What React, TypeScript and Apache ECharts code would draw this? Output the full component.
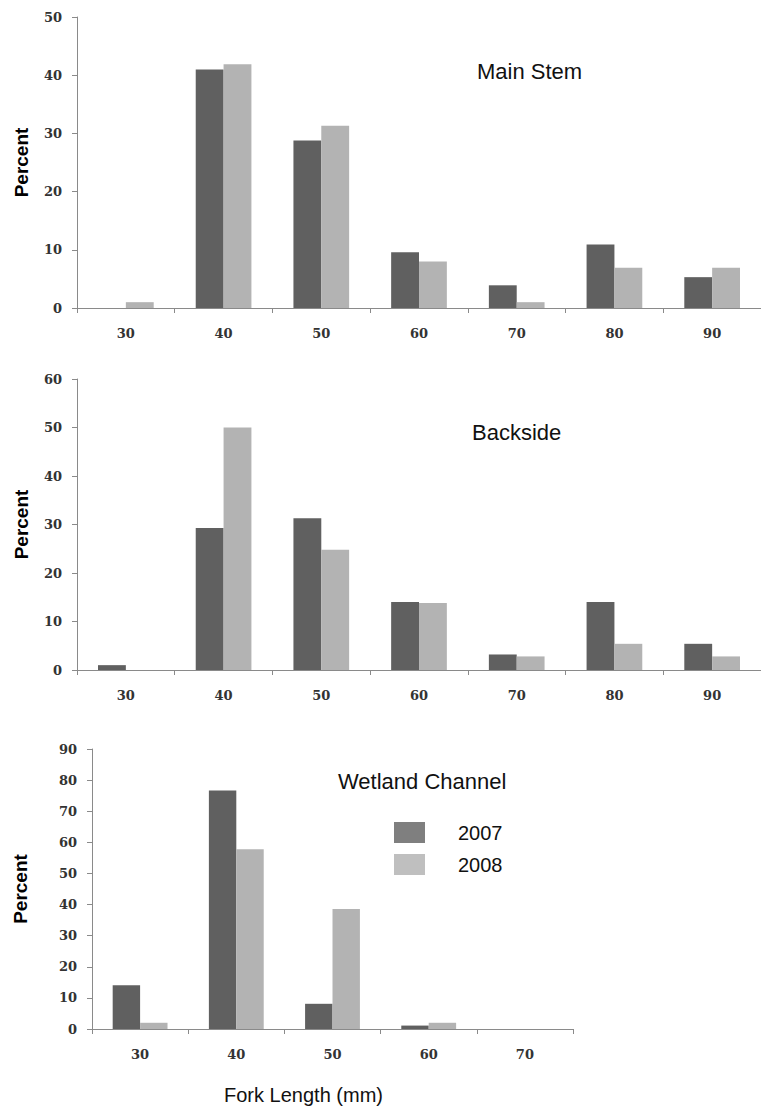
import React, { useEffect, useRef } from "react";
import * as echarts from "echarts";

const categoriesUpper = ["30", "40", "50", "60", "70", "80", "90"];
const categoriesWetland = ["30", "40", "50", "60", "70"];

const mainStem2007 = [0, 41, 28.8, 9.6, 3.9, 10.9, 5.3];
const mainStem2008 = [1.0, 41.9, 31.3, 8.0, 1.0, 6.9, 6.9];

const backside2007 = [1.0, 29.3, 31.3, 14.0, 3.2, 14.0, 5.4];
const backside2008 = [0, 50, 24.8, 13.8, 2.8, 5.4, 2.8];

const wetland2007 = [14.1, 76.7, 8.1, 1.1, 0];
const wetland2008 = [2.0, 57.8, 38.6, 2.0, 0];

const yMaxes = [50, 60, 90];
const panelTitles = ["Main Stem", "Backside", "Wetland Channel"];
const seriesNames = ["2007", "2008"];

const DARK = "#606060";
const LIGHT = "#b3b3b3";
const AXIS = "#8a8a8a";
const LABEL_FONT = "'DejaVu Serif', 'Liberation Serif', serif";
const SANS = "'Liberation Sans', Arial, sans-serif";

export default function App() {
  const ref = useRef<HTMLDivElement>(null);

  useEffect(() => {
    if (!ref.current) return;
    const chart = echarts.init(ref.current, undefined, { renderer: "svg" });

    const grids = [
      { left: 77, top: 17, width: 691, height: 291 },
      { left: 77, top: 379, width: 691, height: 291 },
      { left: 92, top: 749, width: 481, height: 280 },
    ];

    const cats = [categoriesUpper, categoriesUpper, categoriesWetland];

    const xAxes = cats.map((c, i) => ({
      type: "category",
      gridIndex: i,
      data: c,
      axisLine: { lineStyle: { color: AXIS, width: 1 } },
      axisTick: { show: true, length: 5, inside: false, lineStyle: { color: AXIS } },
      axisLabel: {
        margin: 19,
        fontFamily: LABEL_FONT,
        fontWeight: "bold",
        fontSize: 13,
        color: "#333",
      },
      ...(i === 2
        ? {
            name: "Fork Length (mm)",
            nameLocation: "middle",
            nameGap: 56,
            nameTextStyle: {
              fontFamily: SANS,
              fontSize: 20,
              color: "#111",
              padding: [0, 58, 0, 0],
            },
          }
        : {}),
    }));

    const yAxes = yMaxes.map((m, i) => ({
      type: "value",
      gridIndex: i,
      min: 0,
      max: m,
      interval: 10,
      splitLine: { show: false },
      axisLine: { show: true, lineStyle: { color: AXIS, width: 1 } },
      axisTick: { show: true, length: 5, inside: false, lineStyle: { color: AXIS } },
      axisLabel: {
        margin: 15,
        fontFamily: LABEL_FONT,
        fontWeight: "bold",
        fontSize: 13,
        color: "#333",
      },
      name: "Percent",
      nameLocation: "middle",
      nameRotate: 90,
      nameGap: i === 2 ? 62 : 46,
      nameTextStyle: {
        fontFamily: SANS,
        fontWeight: "bold",
        fontSize: 19,
        color: "#000",
      },
    }));

    const data = [
      [mainStem2007, mainStem2008],
      [backside2007, backside2008],
      [wetland2007, wetland2008],
    ];

    const series: any[] = [];
    data.forEach((pair, i) => {
      pair.forEach((vals, j) => {
        series.push({
          type: "bar",
          name: seriesNames[j],
          xAxisIndex: i,
          yAxisIndex: i,
          data: vals,
          barGap: "0%",
          barCategoryGap: "43%",
          itemStyle: { color: j === 0 ? DARK : LIGHT },
          emphasis: { disabled: true },
        });
      });
    });

    const titlePos = [
      { x: 477, y: 71 },
      { x: 472, y: 432 },
      { x: 338, y: 781 },
    ];

    chart.setOption({
      animation: false,
      backgroundColor: "#ffffff",
      grid: grids,
      xAxis: xAxes,
      yAxis: yAxes,
      series,
      legend: {
        orient: "vertical",
        left: 394,
        top: 822,
        padding: 0,
        itemWidth: 31,
        itemHeight: 21,
        itemGap: 11,
        selectedMode: false,
        icon: "rect",
        data: [
          { name: "2007", itemStyle: { color: "#7f7f7f" } },
          { name: "2008", itemStyle: { color: "#bfbfbf" } },
        ],
        textStyle: {
          fontFamily: SANS,
          fontSize: 20,
          color: "#111",
          lineHeight: 21,
          padding: [0, 0, 0, 28],
        },
      },
      graphic: panelTitles.map((t, i) => ({
        type: "text",
        x: titlePos[i].x,
        y: titlePos[i].y,
        style: {
          text: t,
          fontFamily: SANS,
          fontSize: 22,
          fill: "#111",
          textAlign: "left",
          textVerticalAlign: "middle",
        },
      })),
    });

    return () => chart.dispose();
  }, []);

  return (
    <div
      ref={ref}
      style={{ position: "absolute", left: 0, top: 0, width: 761, height: 1106, background: "#fff" }}
    />
  );
}
